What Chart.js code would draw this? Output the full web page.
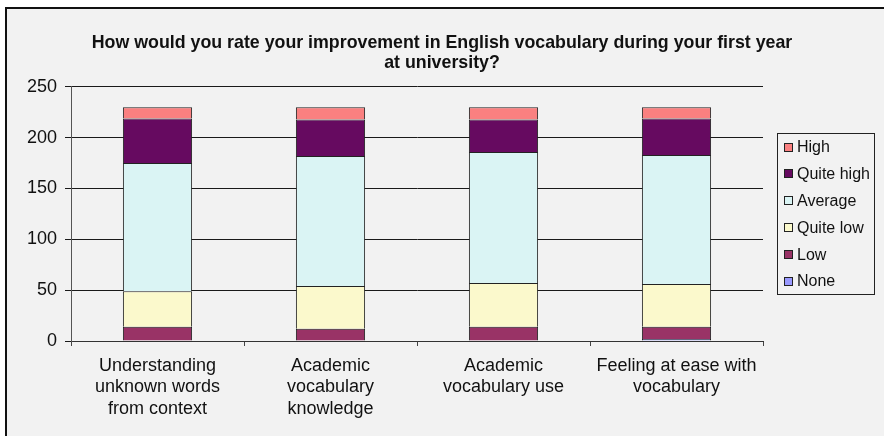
<!DOCTYPE html>
<html>
<head>
<meta charset="utf-8">
<script src="https://cdn.jsdelivr.net/npm/chart.js@4.4.1/dist/chart.umd.min.js"></script>
<style>
  html, body { margin: 0; padding: 0; background: #ffffff; overflow: hidden; }
  #wrap { width: 884px; height: 436px; }
</style>
</head>
<body>
<div id="wrap"><canvas id="c" width="884" height="436"></canvas></div>
<script>
// ---- Data ----
const titleLines = ['How would you rate your improvement in English vocabulary during your first year', 'at university?'];
const categories = [
  ['Understanding', 'unknown words', 'from context'],
  ['Academic', 'vocabulary', 'knowledge'],
  ['Academic', 'vocabulary use'],
  ['Feeling at ease with', 'vocabulary']
];
const seriesNames = ['None', 'Low', 'Quite low', 'Average', 'Quite high', 'High'];
const noneVals      = [0, 0, 0, 2];
const lowVals       = [14, 12, 14, 12];
const quiteLowVals  = [35, 42, 43, 42];
const averageVals   = [126, 128, 129, 127];
const quiteHighVals = [44, 36, 32, 36];
const highVals      = [11, 12, 12, 11];
const yTicks = [0, 50, 100, 150, 200, 250];

const seriesColors = ['#9999ff', '#993366', '#fbf9cc', '#daf4f4', '#660a60', '#fa8080'];
const seriesValues = [noneVals, lowVals, quiteLowVals, averageVals, quiteHighVals, highVals];

const FONT = '"Liberation Sans", Arial, sans-serif';

const frame = {
  id: 'frame',
  beforeDraw(chart) {
    const ctx = chart.ctx;
    ctx.save();
    ctx.fillStyle = '#ffffff';
    ctx.fillRect(0, 0, chart.width, chart.height);
    ctx.fillStyle = '#f2f2f2';
    ctx.fillRect(7, 9, chart.width - 7, chart.height - 9);
    ctx.fillStyle = '#111111';
    ctx.fillRect(5, 7, chart.width - 5, 2);
    ctx.fillRect(5, 7, 2, chart.height - 7);
    ctx.restore();
  }
};

const boxedLegend = {
  id: 'boxedLegend',
  afterDraw(chart) {
    const ctx = chart.ctx;
    const ds = chart.data.datasets;
    ctx.save();
    ctx.strokeStyle = '#222222';
    ctx.lineWidth = 1;
    ctx.strokeRect(777.5, 133.5, 97, 161);
    ctx.font = '16px ' + FONT;
    ctx.textBaseline = 'middle';
    ctx.textAlign = 'left';
    for (let i = 0; i < ds.length; i++) {
      const d = ds[ds.length - 1 - i];
      const cy = 147 + i * 26.8;
      ctx.fillStyle = d.backgroundColor;
      ctx.fillRect(784, Math.round(cy - 4.5), 9, 9);
      ctx.strokeStyle = '#222222';
      ctx.strokeRect(784.5, Math.round(cy - 4.5) + 0.5, 8, 8);
      ctx.fillStyle = '#111111';
      ctx.fillText(d.label, 797, cy + 1);
    }
    ctx.restore();
  }
};

const datasets = seriesNames.map((name, i) => ({
  label: name,
  data: seriesValues[i],
  backgroundColor: seriesColors[i],
  borderColor: '#222222',
  borderWidth: 1,
  barPercentage: 0.4,
  categoryPercentage: 1.0
}));

new Chart(document.getElementById('c'), {
  type: 'bar',
  data: { labels: categories, datasets: datasets },
  options: {
    responsive: false,
    animation: false,
    devicePixelRatio: 1,
    layout: { padding: 0 },
    plugins: {
      legend: { display: false },
      tooltip: { enabled: false },
      title: {
        display: true,
        text: titleLines,
        color: '#111111',
        font: { family: FONT, size: 17.8, weight: 'bold', lineHeight: 1.12 },
        padding: { top: 33, bottom: 14 }
      }
    },
    scales: {
      x: {
        stacked: true,
        grid: { drawOnChartArea: false, drawTicks: true, tickLength: 5, color: '#444444' },
        border: { color: '#333333', width: 1 },
        ticks: {
          color: '#111111',
          font: { family: FONT, size: 18, lineHeight: 1.2 },
          padding: 9,
          maxRotation: 0,
          autoSkip: false
        },
        afterFit(scale) { scale.height = 95; }
      },
      y: {
        stacked: true,
        min: 0,
        max: 250,
        afterBuildTicks(scale) { scale.ticks = yTicks.map(v => ({ value: v })); },
        grid: { color: '#1a1a1a', lineWidth: 1, tickLength: 6 },
        border: { color: '#555555', width: 1 },
        ticks: {
          color: '#111111',
          font: { family: FONT, size: 18 },
          padding: 8
        },
        afterFit(scale) { scale.width = 71; }
      },
      legendSpace: {
        type: 'linear',
        position: 'right',
        display: true,
        grid: { display: false, drawTicks: false },
        border: { display: false },
        ticks: { display: false },
        afterFit(scale) { scale.width = 121; }
      }
    }
  },
  plugins: [frame, boxedLegend]
});
</script>
</body>
</html>
